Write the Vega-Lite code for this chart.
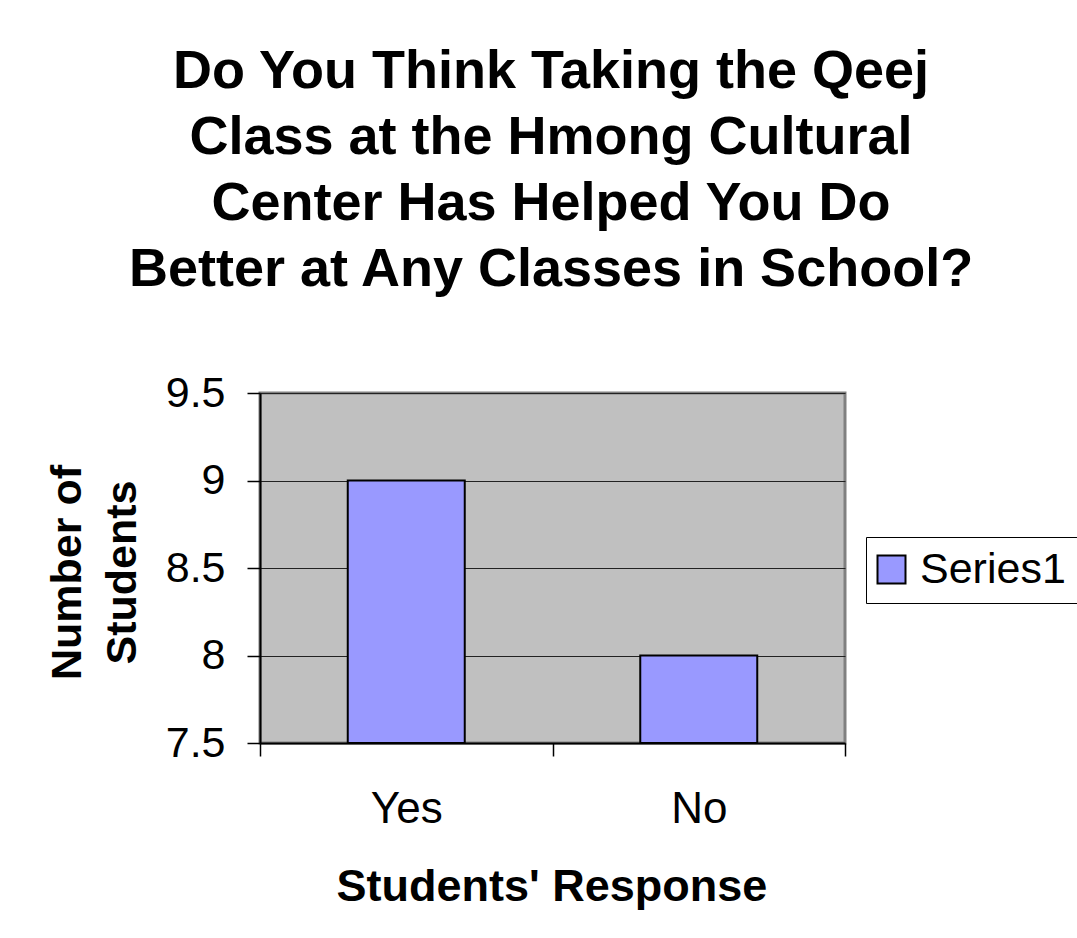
{
  "$schema": "https://vega.github.io/schema/vega-lite/v6.json",
  "width": 585,
  "height": 350,
  "autosize": {"type": "none"},
  "padding": {"left": 260, "top": 393, "right": 232, "bottom": 195},
  "background": "white",
  "title": {
    "text": ["Do You Think Taking the Qeej", "Class at the Hmong Cultural", "Center Has Helped You Do", "Better at Any Classes in School?"],
    "font": "Liberation Sans",
    "fontSize": 54,
    "fontWeight": "bold",
    "color": "black",
    "lineHeight": 66,
    "anchor": "middle",
    "frame": "group",
    "offset": 75,
    "dx": -1.5
  },
  "data": {
    "values": [
      {"response": "Yes", "students": 9, "series": "Series1"},
      {"response": "No", "students": 8, "series": "Series1"}
    ]
  },
  "mark": {"type": "bar", "stroke": "black", "strokeWidth": 2, "width": {"band": 0.4}},
  "encoding": {
    "x": {
      "field": "response",
      "type": "nominal",
      "sort": ["Yes", "No"],
      "scale": {"paddingInner": 0, "paddingOuter": 0},
      "axis": {
        "title": "Students' Response",
        "titleFont": "Liberation Sans",
        "titleFontSize": 45,
        "titleFontWeight": "bold",
        "titleColor": "black",
        "titleBaseline": "alphabetic",
        "titleY": 157,
        "titleX": 291.5,
        "labelFont": "Liberation Sans",
        "labelFontSize": 44,
        "labelColor": "black",
        "labelAngle": 0,
        "labelPadding": 31,
        "tickBand": "extent",
        "tickSize": 13,
        "tickColor": "black",
        "tickWidth": 1.5,
        "domainColor": "black",
        "domainWidth": 2,
        "grid": false
      }
    },
    "y": {
      "field": "students",
      "type": "quantitative",
      "scale": {"domain": [7.5, 9.5], "zero": false, "nice": false},
      "axis": {
        "title": ["Number of", "Students"],
        "titleFont": "Liberation Sans",
        "titleFontSize": 43,
        "titleFontWeight": "bold",
        "titleColor": "black",
        "titleLineHeight": 55,
        "titleBaseline": "alphabetic",
        "titleAngle": -90,
        "titleAlign": "center",
        "titleX": -180,
        "titleY": 179,
        "values": [7.5, 8, 8.5, 9, 9.5],
        "format": ".1~f",
        "labelFont": "Liberation Sans",
        "labelFontSize": 43,
        "labelColor": "black",
        "labelPadding": 22,
        "tickSize": 13,
        "tickColor": "black",
        "tickWidth": 1.5,
        "domainColor": "black",
        "domainWidth": 2,
        "grid": true,
        "gridColor": "#222222",
        "gridWidth": 1
      }
    },
    "y2": {"datum": 7.5},
    "fill": {
      "field": "series",
      "type": "nominal",
      "scale": {"domain": ["Series1"], "range": ["#9999FF"]},
      "legend": {
        "title": null,
        "orient": "none",
        "legendX": 606,
        "legendY": 144,
        "strokeColor": "black",
        "padding": 11,
        "symbolType": "square",
        "symbolSize": 784,
        "symbolOffset": -7,
        "symbolStrokeColor": "black",
        "symbolStrokeWidth": 2,
        "labelFont": "Liberation Sans",
        "labelFontSize": 43,
        "labelColor": "black",
        "labelOffset": 7,
        "labelLimit": 400
      }
    }
  },
  "config": {
    "view": {"fill": "#C0C0C0", "stroke": "#808080", "strokeWidth": 3}
  }
}
